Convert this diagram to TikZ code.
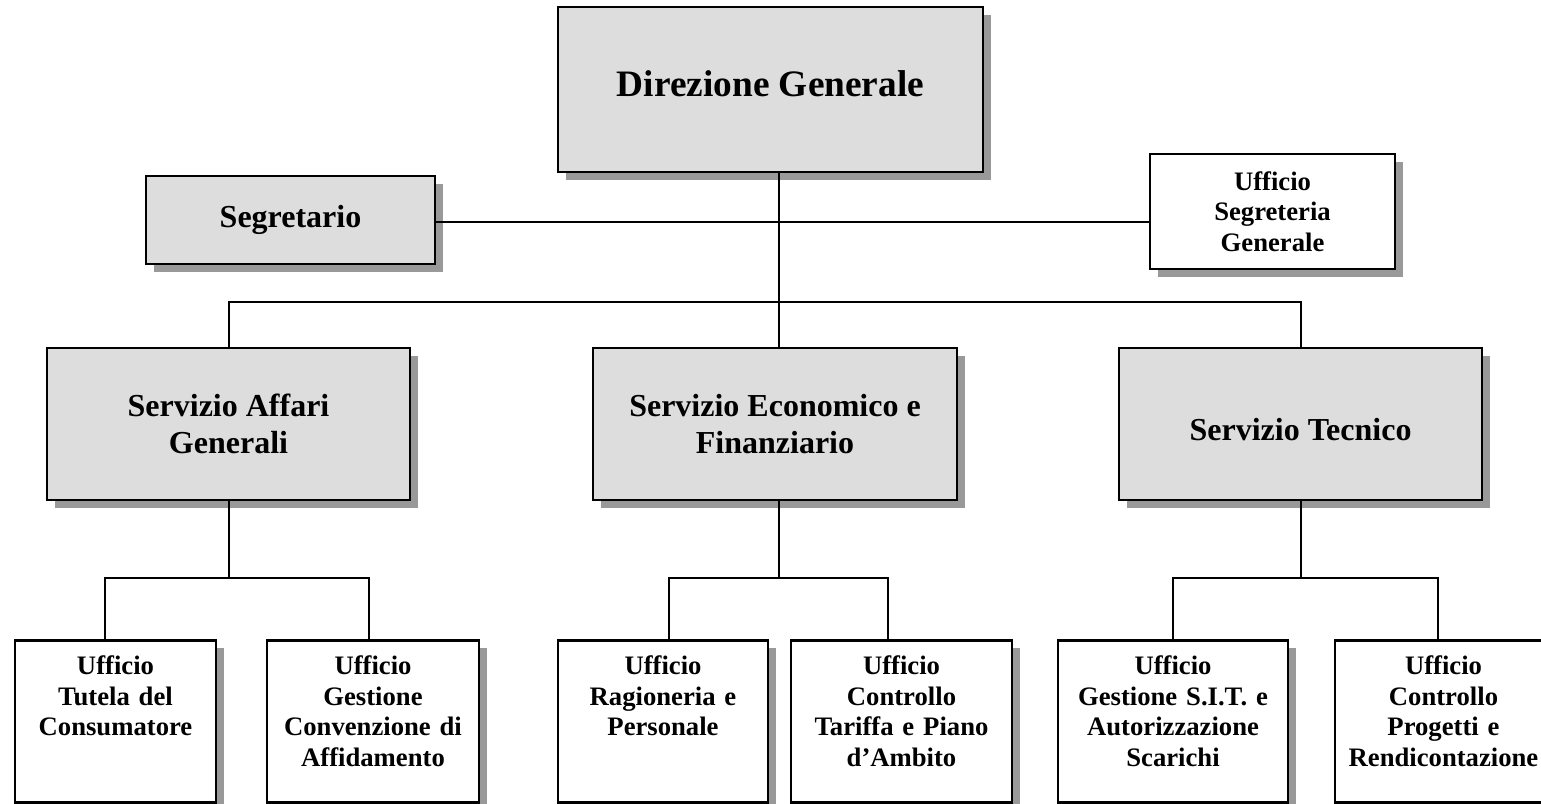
\documentclass[tikz,border=0pt]{standalone}
\usepackage{fontspec}
\setmainfont{Liberation Serif}
\usetikzlibrary{shadows}

\definecolor{boxgrey}{RGB}{221,221,221}
\definecolor{shadowgrey}{RGB}{153,153,153}

\tikzset{every picture/.style={line width=0.75pt}}
\tikzset{
	unit/.style={draw, line width=2pt, inner sep=0pt, align=center, font=\bfseries,
		drop shadow={shadow xshift=6pt, shadow yshift=-6pt, fill=shadowgrey, opacity=1}},
	head/.style={unit, fill=boxgrey, font=\bfseries\fontsize{28}{33}\selectfont},
	service/.style={unit, fill=boxgrey, minimum height=114pt, font=\bfseries\fontsize{24}{28}\selectfont},
	office/.style={unit, fill=white, anchor=north, text width=145pt, text height=25.5pt, text depth=96pt,
		font=\bfseries\fontsize{20}{23}\selectfont},
	link/.style={line width=1.5pt}}

\begin{document}
\begin{tikzpicture}[x=0.75pt,y=0.75pt,yscale=-1,xscale=1]
	\useasboundingbox (0,0) rectangle (1541,803);

	% Top level
	\node [head, minimum width=318.75pt, minimum height=123.75pt, text height=19pt, text depth=7.8pt] (dg) at (770.5,89.5) {Direzione Generale};
	\node [unit, fill=boxgrey, minimum width=216.75pt, minimum height=66pt, font=\bfseries\fontsize{24}{28}\selectfont] (seg) at (290.5,220) {Segretario};
	\node [unit, fill=white, minimum width=183.75pt, minimum height=86.25pt, font=\bfseries\fontsize{20}{23}\selectfont] (usg) at (1272.5,211.5) {Ufficio\\Segreteria\\Generale};

	% Services
	\node [service, minimum width=272.25pt] (sag) at (228.5,424) {Servizio Affari\\Generali};
	\node [service, minimum width=273pt] (sef) at (775,424) {Servizio Economico e\\Finanziario};
	\node [service, minimum width=272.25pt, text height=24pt, text depth=0pt] (st) at (1300.5,424) {Servizio Tecnico};

	% Offices
	\node [office, minimum width=150.75pt] (tut) at (115.5,639) {Ufficio\\Tutela del\\Consumatore};
	\node [office, minimum width=159pt] (gcv) at (373,639) {Ufficio\\Gestione\\Convenzione di\\Affidamento};
	\node [office, minimum width=157.5pt] (rag) at (663,639) {Ufficio\\Ragioneria e\\Personale};
	\node [office, minimum width=165.75pt] (ctp) at (901.5,639) {Ufficio\\Controllo\\Tariffa e Piano\\d'Ambito};
	\node [office, minimum width=172.5pt] (sit) at (1173,639) {Ufficio\\Gestione S.I.T. e\\Autorizzazione\\Scarichi};
	\node [office, minimum width=162.75pt] (ren) at (1443.5,639) {Ufficio\\Controllo\\Progetti e\\Rendicontazione};

	% branch points
	\coordinate (hub) at (779,302);
	\coordinate (aL) at (105,578);
	\coordinate (aR) at (369,578);
	\coordinate (eL) at (669,578);
	\coordinate (eR) at (888,578);
	\coordinate (tL) at (1173,578);
	\coordinate (tR) at (1438,578);

	%Straight Lines
	\draw [link] (dg.south -| hub) -- (sef.north -| hub);
	\draw [link] (seg.east) ++(0,2) -- (usg.west |- 0,222);
	\draw [link] (sag.north) |- (hub) -| (st.north);
	%Straight Lines
	\draw [link] (sag.south) -- (sag.south |- aL);
	\draw [link] (tut.north -| aL) |- (aR) -- (gcv.north -| aR);
	\draw [link] (sef.south -| hub) -- (hub |- eL);
	\draw [link] (rag.north -| eL) |- (eR) -- (ctp.north -| eR);
	\draw [link] (st.south) -- (st.south |- tL);
	\draw [link] (sit.north -| tL) |- (tR) -- (ren.north -| tR);

\end{tikzpicture}
\end{document}
